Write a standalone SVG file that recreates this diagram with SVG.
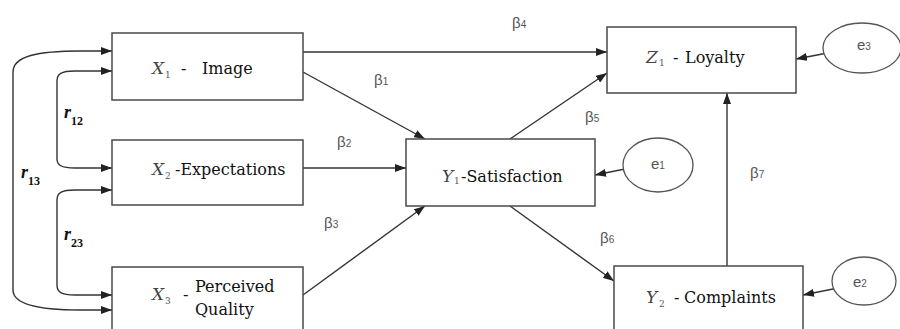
<svg xmlns="http://www.w3.org/2000/svg" width="900" height="329" viewBox="0 0 900 329">
<defs>
<marker id="ah" viewBox="0 0 11 8" refX="11" refY="4" markerWidth="11" markerHeight="8" markerUnits="userSpaceOnUse" orient="auto-start-reverse">
<path d="M0,0 L11,4 L0,8 Z" fill="#222"/>
</marker>
<style>
.box{fill:#fff;stroke:#4a4a4a;stroke-width:1.5}
.ell{fill:#fff;stroke:#555;stroke-width:1.3}
.c{fill:none;stroke:#333;stroke-width:1.4}
.t{font-family:"DejaVu Serif","Liberation Serif",serif;font-size:16px;fill:#111}
.it{font-family:"DejaVu Serif","Liberation Serif",serif;font-style:italic;font-size:17px;fill:#444}
.sub{font-family:"DejaVu Serif","Liberation Serif",serif;font-size:9px;fill:#555}
.b{font-family:"Liberation Sans",Arial,sans-serif;font-size:15px;fill:#555}
.bs{font-family:"Liberation Sans",Arial,sans-serif;font-size:10px;fill:#555}
.r{font-family:"Liberation Serif",serif;font-style:italic;font-weight:bold;font-size:18px;fill:#111}
.rs{font-family:"Liberation Serif",serif;font-weight:bold;font-size:12px;fill:#111}
</style>
</defs>
<rect width="900" height="329" fill="#fff"/>
<g id="connectors">
<path class="c" d="M303,52 L607,52" marker-end="url(#ah)"/>
<path class="c" d="M303,72 L425,139" marker-end="url(#ah)"/>
<path class="c" d="M303,168 L406,168" marker-end="url(#ah)"/>
<path class="c" d="M303,295 L425,206" marker-end="url(#ah)"/>
<path class="c" d="M510,139 L607,73" marker-end="url(#ah)"/>
<path class="c" d="M510,206 L614,281" marker-end="url(#ah)"/>
<path class="c" d="M727,266 L727,93" marker-end="url(#ah)"/>
<path class="c" d="M833,52 L796,59" marker-end="url(#ah)"/>
<path class="c" d="M630,168 L595,175" marker-end="url(#ah)"/>
<path class="c" d="M838,288 L803,295" marker-end="url(#ah)"/>
<path class="c" d="M112,51 L80,51 C38,51 13,56 13,72 L13,290 C13,304 38,310 80,310 L112,310" marker-start="url(#ah)" marker-end="url(#ah)"/>
<path class="c" d="M112,71 L75,71 C61,71 57,74 57,81 L57,159 C57,165 61,168 75,168 L112,168" marker-start="url(#ah)" marker-end="url(#ah)"/>
<path class="c" d="M112,190 L75,190 C61,190 57,193 57,200 L57,285 C57,292 61,295 75,295 L112,295" marker-start="url(#ah)" marker-end="url(#ah)"/>
</g>
<g id="X1">
<rect class="box" x="112" y="33" width="191" height="67"/>
<text class="it" x="152" y="74">X</text><text class="sub" x="165" y="78">1</text>
<text class="t" x="181" y="74">-</text><text class="t" x="202" y="74">Image</text>
</g>
<g id="X2">
<rect class="box" x="112" y="140" width="191" height="65"/>
<text class="it" x="152" y="175">X</text><text class="sub" x="165" y="179">2</text>
<text class="t" x="175" y="175">-Expectations</text>
</g>
<g id="X3">
<rect class="box" x="112" y="267" width="191" height="70"/>
<text class="it" x="152" y="300">X</text><text class="sub" x="165" y="304">3</text>
<text class="t" x="183" y="300">-</text>
<text class="t" x="195" y="292">Perceived</text>
<text class="t" x="195" y="315">Quality</text>
</g>
<g id="Y1">
<rect class="box" x="406" y="139" width="189" height="67"/>
<text class="it" x="442" y="182">Y</text><text class="sub" x="454" y="184">1</text>
<text class="t" x="461" y="182">-Satisfaction</text>
</g>
<g id="Z1">
<rect class="box" x="607" y="27" width="189" height="66"/>
<text class="it" x="646" y="63">Z</text><text class="sub" x="659" y="66">1</text>
<text class="t" x="673" y="63">-</text><text class="t" x="685" y="63">Loyalty</text>
</g>
<g id="Y2">
<rect class="box" x="614" y="266" width="189" height="70"/>
<text class="it" x="646" y="303">Y</text><text class="sub" x="659" y="307">2</text>
<text class="t" x="674" y="303">-</text><text class="t" x="684" y="303">Complaints</text>
</g>
<g id="e1">
<ellipse class="ell" cx="658" cy="165" rx="35" ry="27"/>
<text class="b" x="651" y="169">e<tspan class="bs">1</tspan></text>
</g>
<g id="e2">
<ellipse class="ell" cx="864" cy="281" rx="32" ry="24"/>
<text class="b" x="853" y="287">e<tspan class="bs">2</tspan></text>
</g>
<g id="e3">
<ellipse class="ell" cx="862" cy="48" rx="39" ry="25"/>
<text class="b" x="857" y="50">e<tspan class="bs">3</tspan></text>
</g>
<g id="labels">
<text class="b" x="512" y="28">β<tspan class="bs">4</tspan></text>
<text class="b" x="374" y="85">β<tspan class="bs">1</tspan></text>
<text class="b" x="585" y="122">β<tspan class="bs">5</tspan></text>
<text class="b" x="337" y="147">β<tspan class="bs">2</tspan></text>
<text class="b" x="324" y="228">β<tspan class="bs">3</tspan></text>
<text class="b" x="600" y="243">β<tspan class="bs">6</tspan></text>
<text class="b" x="750" y="178">β<tspan class="bs">7</tspan></text>
<text class="r" x="64" y="118">r</text><text class="rs" x="71" y="125">12</text>
<text class="r" x="21" y="178">r</text><text class="rs" x="28" y="185">13</text>
<text class="r" x="64" y="240">r</text><text class="rs" x="71" y="247">23</text>
</g>
</svg>
